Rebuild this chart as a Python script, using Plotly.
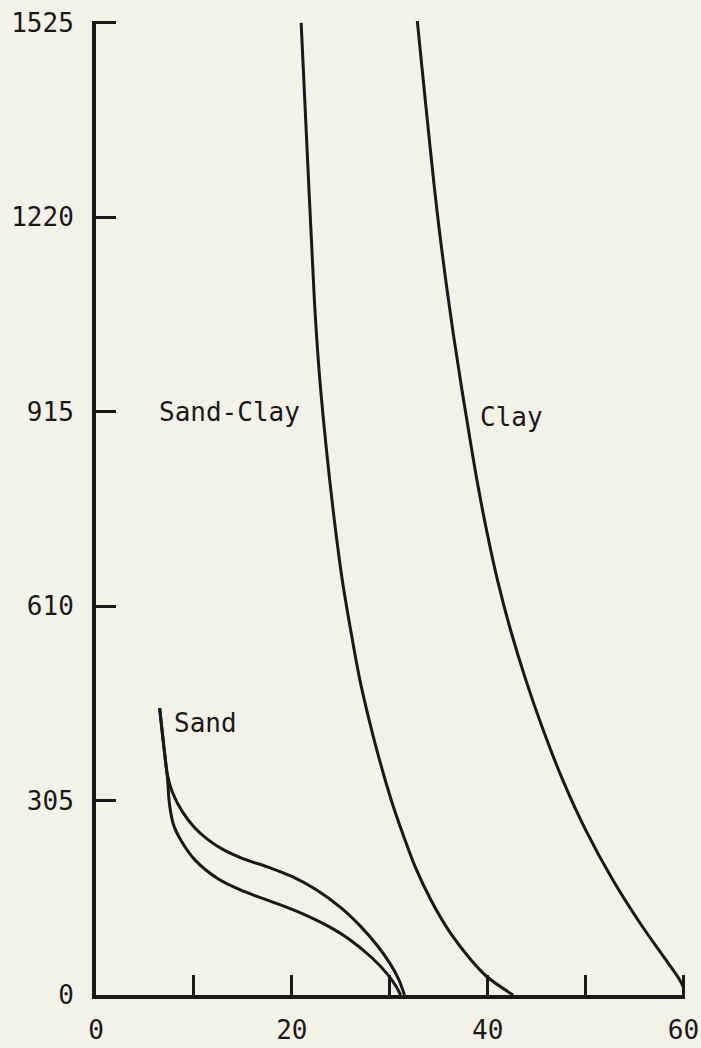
import plotly.graph_objects as go

# Data
sand_upper_x = [6.5, 7.0, 7.3, 7.8, 8.8, 10.1, 11.5, 13.0, 15.0, 17.5, 20.0, 22.5, 25.0, 27.0, 28.7, 30.0, 30.9, 31.5]
sand_upper_y = [450, 380, 345, 318, 288, 262, 243, 228, 214, 201, 186, 165, 137, 108, 78, 50, 25, 0]

sand_lower_x = [6.5, 7.0, 7.3, 7.5, 7.9, 8.7, 10.1, 12.5, 15.2, 18.2, 21.0, 23.7, 26.0, 28.2, 29.8, 30.7, 31.1]
sand_lower_y = [450, 380, 340, 300, 268, 242, 212, 182, 162, 145, 128, 108, 86, 58, 32, 12, 0]

sandclay_x = [20.95, 21.8, 22.3, 22.75, 23.2, 23.9, 24.5, 25.15, 26.0, 26.95, 27.9, 28.95, 30.15,
              31.3, 32.6, 34.2, 36.2, 38.3, 39.9, 42.6]
sandclay_y = [1525, 1247, 1090, 986, 907, 803, 725, 651, 573, 494, 431, 369, 306,
              254, 201, 149, 97, 55, 29, 0]

clay_x = [32.8, 34.7, 35.53, 36.48, 37.26, 37.82, 38.96, 39.94, 41.0, 42.33, 43.9, 45.66, 47.67,
          50.0, 52.8, 55.55, 58.2, 59.6, 60.0]
clay_y = [1530, 1247, 1143, 1038, 960, 907, 803, 725, 651, 573, 494, 416, 337,
          259, 180, 113, 55, 24, 12]

x_tickvals = [0, 10, 20, 30, 40, 50, 60]
x_ticktext = ["0", "", "20", "", "40", "", "60"]
y_tickvals = [0, 305, 610, 915, 1220, 1525]
y_ticktext = ["0", "305", "610", "915", "1220", "1525"]

labels = [
    ("Sand-Clay", 6.2, 915),
    ("Clay", 39.05, 907),
    ("Sand", 7.8, 427),
]

INK = "#1c1719"
BG = "#f3f2e9"
FONT = "DejaVu Sans Mono"

fig = go.Figure()
for xs, ys in [(sand_upper_x, sand_upper_y), (sand_lower_x, sand_lower_y),
               (sandclay_x, sandclay_y), (clay_x, clay_y)]:
    fig.add_trace(go.Scatter(x=xs, y=ys, mode="lines",
                             line=dict(color=INK, width=3, shape="spline", smoothing=1.0),
                             hoverinfo="skip", showlegend=False))

for text, x, y in labels:
    fig.add_annotation(x=x, y=y, text=text, showarrow=False, xanchor="left", yanchor="middle",
                       font=dict(family=FONT, size=26, color=INK))

fig.update_layout(
    width=701, height=1048,
    margin=dict(l=96, r=16, t=21, b=53),
    paper_bgcolor=BG, plot_bgcolor=BG,
    showlegend=False,
    font=dict(family=FONT, size=26, color=INK),
)
fig.update_xaxes(range=[0, 60.15], tickvals=x_tickvals, ticktext=x_ticktext, automargin=False,
                 showgrid=False, zeroline=False, showline=True, linecolor=INK, linewidth=4,
                 ticks="inside", ticklen=20, tickwidth=3, tickcolor=INK,
                 ticklabelstandoff=9, tickfont=dict(family=FONT, size=26, color=INK))
fig.update_yaxes(range=[0, 1528], tickvals=y_tickvals, ticktext=y_ticktext, automargin=False,
                 showgrid=False, zeroline=False, showline=True, linecolor=INK, linewidth=4,
                 ticks="inside", ticklen=20, tickwidth=3, tickcolor=INK,
                 ticklabelstandoff=13, tickfont=dict(family=FONT, size=26, color=INK))

fig.write_html("out.html")
